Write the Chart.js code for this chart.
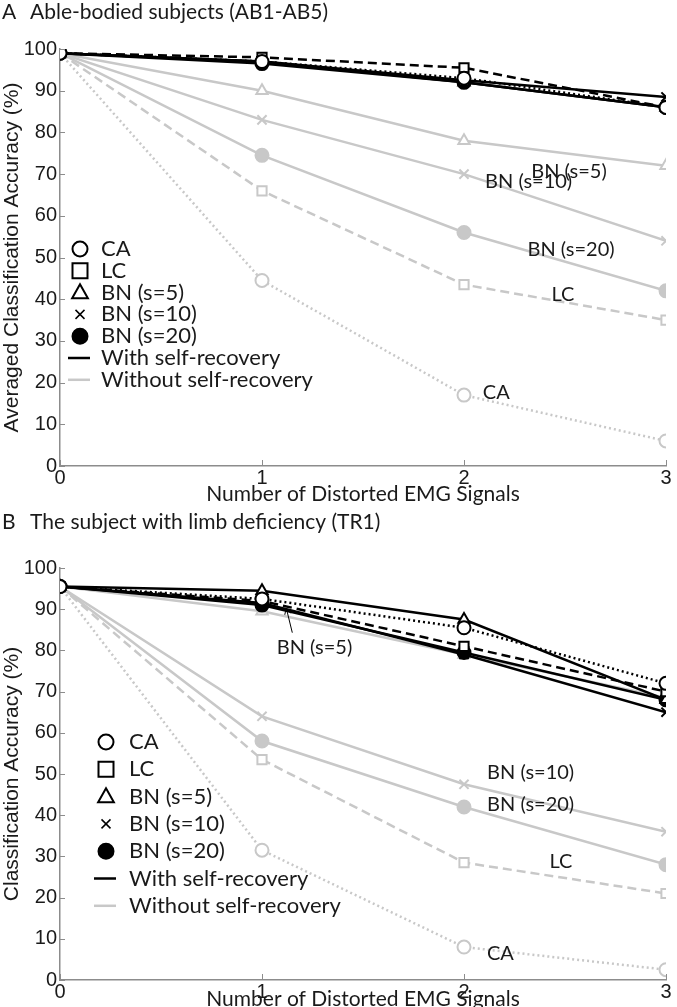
<!DOCTYPE html>
<html lang="en">
<head>
<meta charset="UTF-8">
<title>Classification accuracy vs. distorted EMG signals</title>
<script src="https://cdn.jsdelivr.net/npm/chart.js"></script>
<style>
    body { margin: 0; background: #fff; }
    .panel { position: absolute; left: 0; width: 677px; }
    #panelA { top: 0; height: 505px; }
    #panelB { top: 505px; height: 502px; }
</style>
</head>
<body>
<div class="panel" id="panelA"><canvas id="chartA" width="677" height="505"></canvas></div>
<div class="panel" id="panelB"><canvas id="chartB" width="677" height="502"></canvas></div>

<script>
// x axis: number of distorted EMG signals
const signals = [0, 1, 2, 3];
const xTicks = [0, 1, 2, 3];
const yTicks = [0, 10, 20, 30, 40, 50, 60, 70, 80, 90, 100];

// Panel A - able-bodied subjects, with self-recovery
const abCaWith = [99, 97, 93, 86];
const abLcWith = [99, 98, 95.5, 86];
const abBn5With = [99, 97, 92, 86];
const abBn10With = [99, 97, 92.5, 88.5];
const abBn20With = [99, 96.5, 92, 86];
// Panel A - without self-recovery
const abCaWithout = [99, 44.5, 17, 6];
const abLcWithout = [99, 66, 43.5, 35];
const abBn5Without = [99, 90, 78, 72];
const abBn10Without = [99, 83, 70, 54];
const abBn20Without = [99, 74.5, 56, 42];

// Panel B - subject with limb deficiency, with self-recovery
const trCaWith = [95.5, 92.5, 85.5, 72];
const trLcWith = [95.5, 92, 81, 70];
const trBn5With = [95.5, 94.5, 87.5, 68];
const trBn10With = [95.5, 91.5, 79, 65];
const trBn20With = [95.5, 91, 79.5, 68];
// Panel B - without self-recovery
const trCaWithout = [95.5, 31.5, 8, 2.5];
const trLcWithout = [95.5, 53.5, 28.5, 21];
const trBn5Without = [95.5, 89.5, 79, 68.5];
const trBn10Without = [95.5, 64, 47.5, 36];
const trBn20Without = [95.5, 58, 42, 28];

const BLACK = '#000000';
const GRAY = '#c8c8c8';
const TEXT = '#1a1a1a';
const labelFont = 'Lato, "Open Sans", sans-serif';
const numFont = '"Liberation Sans", Arial, sans-serif';

// method styles: marker, fill, dash
const methods = [
    { key: 'CA', style: 'circle', filled: false, dash: [2, 3] },
    { key: 'LC', style: 'rect', filled: false, dash: [9, 5] },
    { key: 'BN5', style: 'triangle', filled: false, dash: [] },
    { key: 'BN10', style: 'crossRot', filled: false, dash: [] },
    { key: 'BN20', style: 'circle', filled: true, dash: [] }
];

function makeDatasets(withSets, withoutSets) {
    const out = [];
    // black (with self-recovery) on top -> lower order
    methods.forEach((m, i) => {
        out.push(series(withSets[i], m, BLACK, 0, 2.5));
    });
    methods.forEach((m, i) => {
        out.push(series(withoutSets[i], m, GRAY, 1, 2.5));
    });
    return out;
}

function series(values, m, color, order, width) {
    return {
        data: signals.map((x, i) => ({ x: x, y: values[i] })),
        borderColor: color,
        borderWidth: width,
        borderDash: m.dash,
        pointStyle: m.style,
        pointRadius: 6.5,
        pointBorderWidth: 2,
        pointBorderColor: color,
        pointBackgroundColor: m.filled ? color : '#ffffff',
        fill: false,
        tension: 0,
        order: order
    };
}

const legendRows = [
    { style: 'circle', filled: false, text: 'CA' },
    { style: 'rect', filled: false, text: 'LC' },
    { style: 'triangle', filled: false, text: 'BN (s=5)' },
    { style: 'crossRot', filled: false, text: 'BN (s=10)' },
    { style: 'circle', filled: true, text: 'BN (s=20)' },
    { line: BLACK, text: 'With self-recovery' },
    { line: GRAY, text: 'Without self-recovery' }
];

// text labels next to the curves, in data coordinates
const abNotes = [
    { text: 'BN (s=5)', x: 2.52, y: 70.5 },
    { text: 'BN (s=10)', x: 2.32, y: 68.3 },
    { text: 'BN (s=20)', x: 2.53, y: 51.8 },
    { text: 'LC', x: 2.49, y: 41.2 },
    { text: 'CA', x: 2.16, y: 17.7 }
];
const trNotes = [
    { text: 'BN (s=5)', x: 1.26, y: 80.6 },
    { text: 'BN (s=10)', x: 2.33, y: 50.4 },
    { text: 'BN (s=20)', x: 2.33, y: 42.6 },
    { text: 'LC', x: 2.48, y: 28.8 },
    { text: 'CA', x: 2.18, y: 6.3 }
];

function drawMarker(ctx, style, filled, color, x, y, r) {
    ctx.save();
    ctx.strokeStyle = color;
    ctx.fillStyle = filled ? color : '#fff';
    ctx.lineWidth = 2;
    ctx.beginPath();
    if (style === 'circle') {
        ctx.arc(x, y, r, 0, Math.PI * 2);
        ctx.fill(); ctx.stroke();
    } else if (style === 'rect') {
        ctx.rect(x - r, y - r, 2 * r, 2 * r);
        ctx.fill(); ctx.stroke();
    } else if (style === 'triangle') {
        ctx.moveTo(x, y - r * 1.1);
        ctx.lineTo(x + r * 1.05, y + r * 0.75);
        ctx.lineTo(x - r * 1.05, y + r * 0.75);
        ctx.closePath();
        ctx.fill(); ctx.stroke();
    } else if (style === 'crossRot') {
        const d = r * 0.6;
        ctx.lineWidth = 1.5;
        ctx.moveTo(x - d, y - d); ctx.lineTo(x + d, y + d);
        ctx.moveTo(x + d, y - d); ctx.lineTo(x - d, y + d);
        ctx.stroke();
    }
    ctx.restore();
}

const decoPlugin = {
    id: 'deco',
    afterDraw(chart, args, opts) {
        const ctx = chart.ctx;
        const xs = chart.scales.x, ys = chart.scales.y;
        const area = chart.chartArea;
        ctx.save();

        // inward tick marks
        ctx.strokeStyle = '#8c8c8c';
        ctx.lineWidth = 1;
        ctx.beginPath();
        yTicks.forEach(v => {
            const py = Math.round(ys.getPixelForValue(v)) + 0.5;
            ctx.moveTo(area.left, py); ctx.lineTo(area.left + 5, py);
        });
        xTicks.forEach(v => {
            const px = Math.round(xs.getPixelForValue(v)) + 0.5;
            ctx.moveTo(px, area.bottom); ctx.lineTo(px, area.bottom - 6);
        });
        ctx.stroke();

        // panel title
        ctx.fillStyle = TEXT;
        ctx.textBaseline = 'middle';
        ctx.textAlign = 'left';
        ctx.font = '21px ' + labelFont;
        ctx.fillText(opts.letter, 2, opts.titleY);
        ctx.fillText(opts.title, 30, opts.titleY);

        // x axis title
        ctx.textAlign = 'center';
        ctx.font = '21px ' + labelFont;
        ctx.fillText('Number of Distorted EMG Signals', (area.left + area.right) / 2, opts.xTitleY);

        // notes beside the curves
        ctx.font = '20px ' + labelFont;
        opts.notes.forEach(n => {
            ctx.fillText(n.text, xs.getPixelForValue(n.x), ys.getPixelForValue(n.y));
        });

        // arrow for BN (s=5) in panel B
        if (opts.arrow) {
            const a = opts.arrow;
            const x0 = xs.getPixelForValue(a.fromX), y0 = ys.getPixelForValue(a.fromY);
            const x1 = xs.getPixelForValue(a.toX), y1 = ys.getPixelForValue(a.toY);
            ctx.strokeStyle = '#000';
            ctx.lineWidth = 1;
            ctx.beginPath();
            ctx.moveTo(x0, y0); ctx.lineTo(x1, y1);
            const ang = Math.atan2(y1 - y0, x1 - x0);
            ctx.moveTo(x1, y1); ctx.lineTo(x1 - 7 * Math.cos(ang - 0.45), y1 - 7 * Math.sin(ang - 0.45));
            ctx.moveTo(x1, y1); ctx.lineTo(x1 - 7 * Math.cos(ang + 0.45), y1 - 7 * Math.sin(ang + 0.45));
            ctx.stroke();
        }

        // legend
        const lg = opts.legend;
        legendRows.forEach((row, i) => {
            const y = lg.top + i * lg.step;
            if (row.line) {
                ctx.strokeStyle = row.line;
                ctx.lineWidth = 2.5;
                ctx.beginPath();
                ctx.moveTo(lg.symX - 12, y); ctx.lineTo(lg.symX + 10, y);
                ctx.stroke();
            } else {
                drawMarker(ctx, row.style, row.filled, BLACK, lg.symX, y, 7.5);
            }
            ctx.fillStyle = TEXT;
            ctx.textAlign = 'left';
            ctx.font = '22px ' + labelFont;
            ctx.fillText(row.text, lg.textX, y);
        });
        ctx.restore();
    }
};

function makeChart(id, cfg) {
    const canvasH = document.getElementById(id).height;
    return new Chart(document.getElementById(id), {
        type: 'line',
        data: { datasets: makeDatasets(cfg.withSets, cfg.withoutSets) },
        options: {
            responsive: false,
            animation: false,
            layout: { padding: { top: cfg.plotTop, right: 11, left: 0, bottom: 0 } },
            plugins: {
                legend: { display: false },
                tooltip: { enabled: false },
                deco: cfg.deco
            },
            scales: {
                x: {
                    type: 'linear', min: 0, max: 3,
                    afterBuildTicks: s => { s.ticks = xTicks.map(v => ({ value: v })); },
                    ticks: { color: TEXT, font: { family: numFont, size: 20 }, padding: 0 },
                    grid: { display: false, drawTicks: false, tickLength: 0 },
                    border: { color: '#8c8c8c', width: 1.5 },
                    afterFit: s => { s.height = canvasH - cfg.plotBottom; }
                },
                y: {
                    min: 0, max: 100,
                    afterBuildTicks: s => { s.ticks = yTicks.map(v => ({ value: v })); },
                    ticks: { color: TEXT, font: { family: numFont, size: 20 }, padding: 3 },
                    grid: { display: false, drawTicks: false, tickLength: 0 },
                    border: { color: '#8c8c8c', width: 1.5 },
                    title: { display: true, text: cfg.yTitle, color: TEXT, font: { family: numFont, size: 21 }, padding: 0 },
                    afterFit: s => { s.width = 60; }
                }
            }
        },
        plugins: [decoPlugin]
    });
}

makeChart('chartA', {
    plotTop: 49, plotBottom: 466,
    yTitle: 'Averaged Classification Accuracy (%)',
    withSets: [abCaWith, abLcWith, abBn5With, abBn10With, abBn20With],
    withoutSets: [abCaWithout, abLcWithout, abBn5Without, abBn10Without, abBn20Without],
    deco: {
        letter: 'A', title: 'Able-bodied subjects (AB1-AB5)', titleY: 12,
        xTitleY: 494, notes: abNotes,
        legend: { symX: 80, textX: 101, top: 249, step: 21.8 }
    }
});

makeChart('chartB', {
    plotTop: 63, plotBottom: 475,
    yTitle: 'Classification Accuracy (%)',
    withSets: [trCaWith, trLcWith, trBn5With, trBn10With, trBn20With],
    withoutSets: [trCaWithout, trLcWithout, trBn5Without, trBn10Without, trBn20Without],
    deco: {
        letter: 'B', title: 'The subject with limb deficiency (TR1)', titleY: 17,
        xTitleY: 494, notes: trNotes,
        arrow: { fromX: 1.15, fromY: 84.3, toX: 1.12, toY: 90.3 },
        legend: { symX: 106, textX: 129, top: 237, step: 27.3 }
    }
});
</script>
</body>
</html>
